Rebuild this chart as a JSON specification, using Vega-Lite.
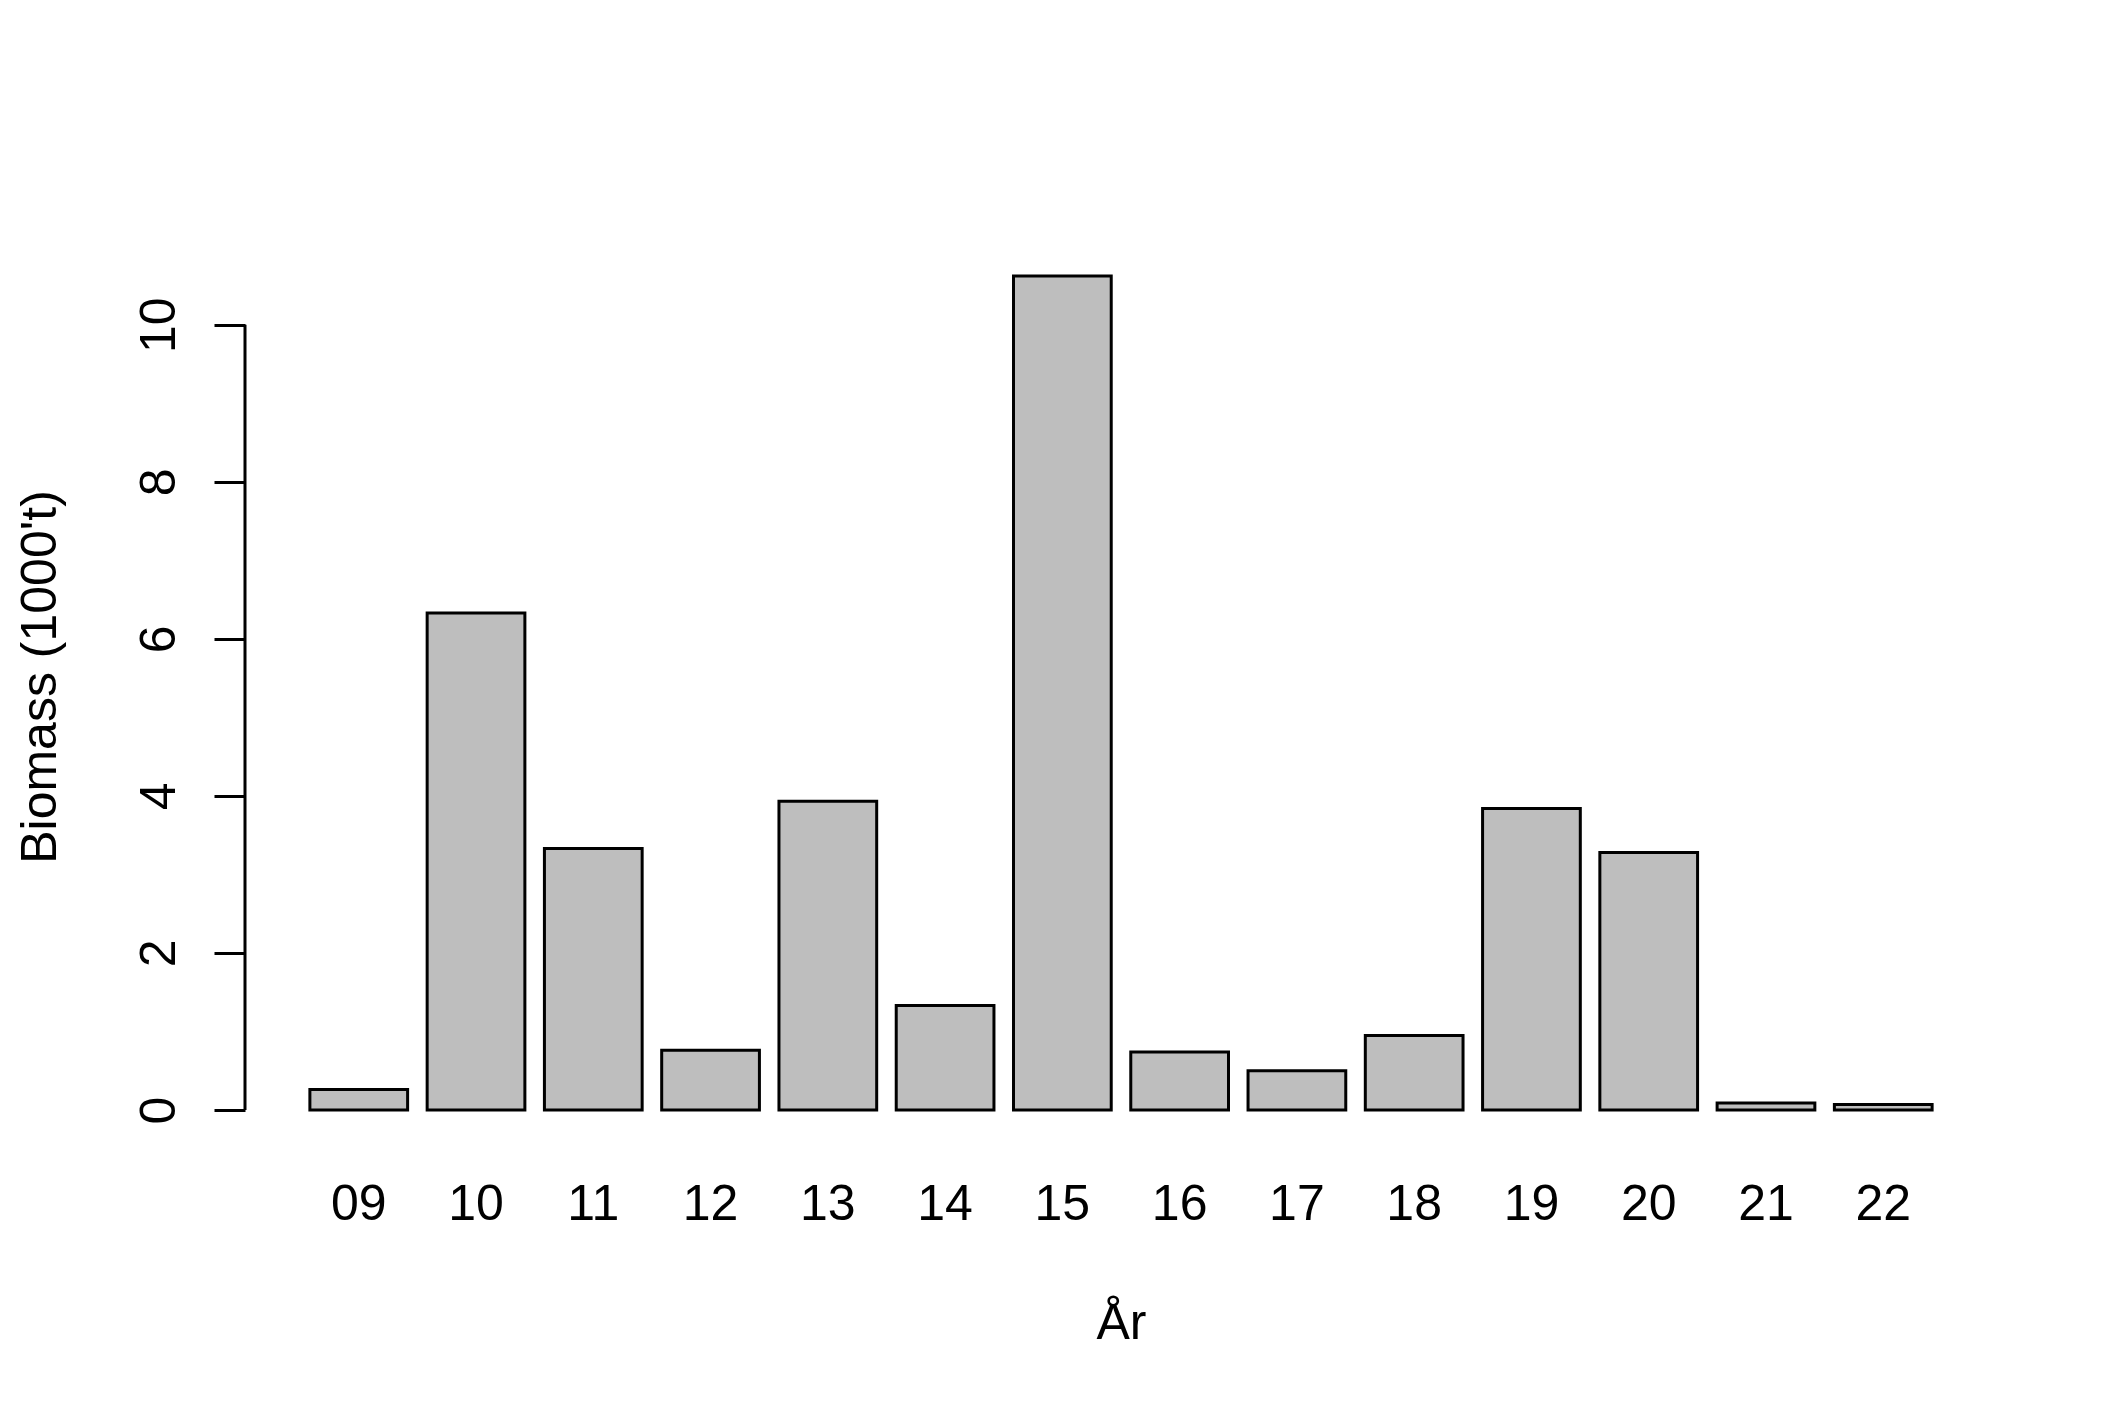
{
  "$schema": "https://vega.github.io/schema/vega-lite/v6.json",
  "width": 1752,
  "height": 867,
  "autosize": {"type": "none"},
  "padding": {"left": 245, "top": 243, "right": 128, "bottom": 307},
  "background": "white",
  "config": {"view": {"stroke": null}, "font": "Liberation Sans"},
  "layer": [
    {
      "data": {"values": [
        {"year": "09", "biomass": 0.26},
        {"year": "10", "biomass": 6.33},
        {"year": "11", "biomass": 3.33},
        {"year": "12", "biomass": 0.76},
        {"year": "13", "biomass": 3.93},
        {"year": "14", "biomass": 1.33},
        {"year": "15", "biomass": 10.62},
        {"year": "16", "biomass": 0.74},
        {"year": "17", "biomass": 0.50},
        {"year": "18", "biomass": 0.95},
        {"year": "19", "biomass": 3.84},
        {"year": "20", "biomass": 3.28},
        {"year": "21", "biomass": 0.09},
        {"year": "22", "biomass": 0.07}
      ]},
      "mark": {"type": "bar", "fill": "#BEBEBE", "stroke": "black", "strokeWidth": 3},
      "encoding": {
        "x": {
          "field": "year", "type": "ordinal", "sort": null,
          "scale": {"paddingInner": 0.16667, "paddingOuter": 0.5533},
          "axis": {
            "title": "År", "domain": false, "ticks": false, "tickSize": 0,
            "labelAngle": 0, "labelFontSize": 50, "labelColor": "black",
            "labelFont": "Liberation Sans",
            "labelBaseline": "alphabetic", "labelPadding": 109,
            "titleFontSize": 50, "titleFontWeight": "normal", "titleColor": "black",
            "titleFont": "Liberation Sans",
            "titleBaseline": "alphabetic", "titleY": 228
          }
        },
        "y": {
          "field": "biomass", "type": "quantitative",
          "scale": {"domain": [0, 11.04], "nice": false, "zero": true},
          "axis": {
            "title": "Biomass (1000't)", "values": [0, 2, 4, 6, 8, 10], "format": "d",
            "domain": false, "grid": false,
            "tickSize": 31, "tickWidth": 3, "tickColor": "black",
            "labelAngle": 270, "labelAlign": "center", "labelBaseline": "alphabetic",
            "labelPadding": 40, "labelFontSize": 50, "labelColor": "black",
            "labelFont": "Liberation Sans", "labelOverlap": false,
            "titleFontSize": 50, "titleFontWeight": "normal", "titleColor": "black",
            "titleFont": "Liberation Sans",
            "titleX": -190, "titleBaseline": "alphabetic", "titleAngle": 270
          }
        }
      }
    },
    {
      "data": {"values": [{"from": 0, "to": 10}]},
      "mark": {"type": "rule", "stroke": "black", "strokeWidth": 3},
      "encoding": {
        "x": {"value": 0},
        "y": {"field": "from", "type": "quantitative"},
        "y2": {"field": "to"}
      }
    }
  ]
}
